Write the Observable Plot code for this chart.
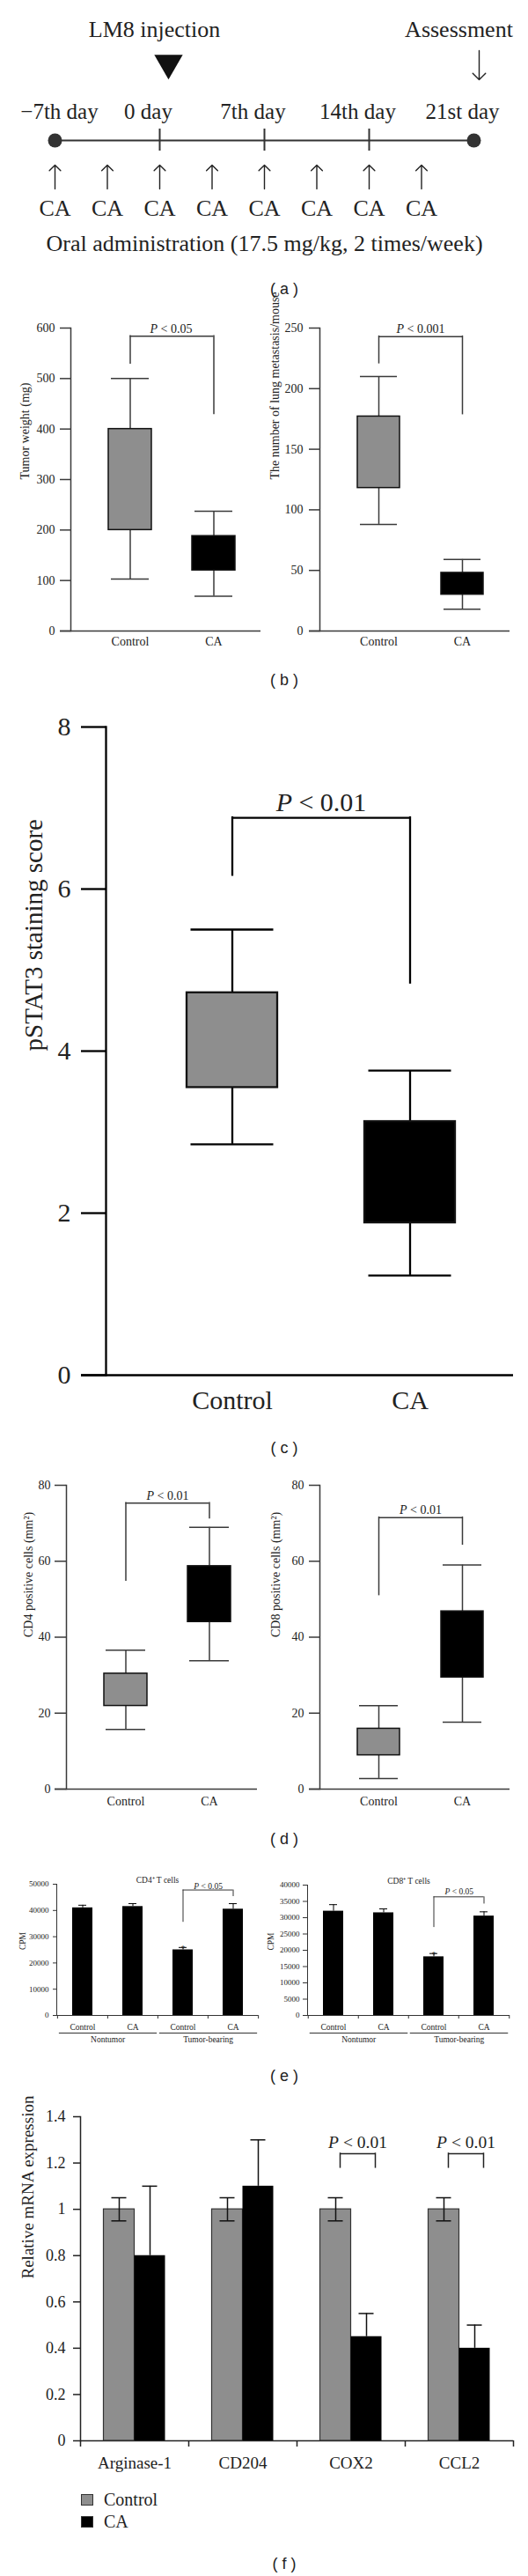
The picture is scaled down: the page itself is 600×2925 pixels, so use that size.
<!DOCTYPE html>
<html><head><meta charset="utf-8">
<script src="https://cdn.jsdelivr.net/npm/d3@7"></script>
<script src="https://cdn.jsdelivr.net/npm/@observablehq/plot@0.6"></script>
<style>
body{margin:0;background:#fff;}
#root{position:relative;width:600px;height:2925px;overflow:hidden;background:#fff;font-family:"Liberation Serif",serif;color:#222;}
.panel{position:absolute;}
.panel svg{overflow:visible;}
.plabel{position:absolute;font-family:"Liberation Sans",Arial,sans-serif;font-size:18px;line-height:20px;transform:translate(-50%,-50%);white-space:pre;color:#222;}
.legend{position:absolute;font-family:"Liberation Serif",serif;font-size:20px;color:#222;}
.legend .row{display:flex;align-items:center;height:25px;}
.legend .sw{width:14px;height:13px;margin-right:12px;box-sizing:border-box;}
</style></head><body><div id="root"></div>
<script>
// ================= DATA =================
// (a) schedule
const timelineDays = [-7, 0, 7, 14, 21];
const timelineDayLabels = ["−7th day", "0 day", "7th day", "14th day", "21st day"];
const timelineMarkDays = [0, 7, 14];
const timelineEndDays = [-7, 21];
const doseDays = [-7, -3.5, 0, 3.5, 7, 10.5, 14, 17.5];
const doseLabel = "CA";
const injectionDay = 0, injectionLabel = "LM8 injection";
const assessmentDay = 21, assessmentLabel = "Assessment";
const doseNote = "Oral administration (17.5 mg/kg, 2 times/week)";

// box plots: [lower whisker, Q1, Q3, upper whisker]
const boxGroups = ["Control", "CA"];
const tumorWeightControl = [103, 200, 400, 500];
const tumorWeightCA = [69, 120, 188, 237];
const tumorWeightBracket = [530, 584, 430];
const tumorWeightTicks = [0, 100, 200, 300, 400, 500, 600];
const lungMetControl = [88, 118, 177, 210];
const lungMetCA = [18, 30, 48, 59];
const lungMetBracket = [221, 243, 179];
const lungMetTicks = [0, 50, 100, 150, 200, 250];
const pstat3Control = [2.85, 3.55, 4.72, 5.5];
const pstat3CA = [1.23, 1.88, 3.13, 3.76];
const pstat3Bracket = [6.17, 6.88, 4.84];
const pstat3Ticks = [0, 2, 4, 6, 8];
const cd4CellsControl = [15.7, 21.9, 30.4, 36.6];
const cd4CellsCA = [33.8, 44.0, 58.7, 68.9];
const cd4CellsBracket = [54.9, 75.3, 71.3];
const cd8CellsControl = [2.8, 8.9, 15.9, 22.0];
const cd8CellsCA = [17.6, 29.4, 46.8, 59.0];
const cd8CellsBracket = [51.1, 71.5, 64.4];
const cellTicks = [0, 20, 40, 60, 80];

// (e) T-cell proliferation
const tcellConditions = ["Control", "CA", "Control", "CA"];
const tcellGroups = ["Nontumor", "Nontumor", "Tumor-bearing", "Tumor-bearing"];
const tcellStars = ["", "", "*", ""];
const tcellBracketPair = [2, 3];
const cd4Cpm = [41000, 41500, 25000, 40500];
const cd4CpmErr = [1000, 1100, 900, 2100];
const cd4CpmBracket = [35500, 47800, 45300];
const cd4CpmTicks = [0, 10000, 20000, 30000, 40000, 50000];
const cd8Cpm = [32000, 31500, 18000, 30500];
const cd8CpmErr = [2000, 1200, 1000, 1300];
const cd8CpmBracket = [27000, 36400, 34200];
const cd8CpmTicks = [0, 5000, 10000, 15000, 20000, 25000, 30000, 35000, 40000];

// (f) mRNA
const genes = ["Arginase-1", "CD204", "COX2", "CCL2"];
const mrnaSeries = ["Control", "CA"];
const mrnaControl = [1, 1, 1, 1];
const mrnaControlErr = [0.05, 0.05, 0.05, 0.05];
const mrnaCA = [0.8, 1.1, 0.45, 0.4];
const mrnaCAErr = [0.3, 0.2, 0.1, 0.1];
const mrnaP = ["", "", "< 0.01", "< 0.01"];
const mrnaBracket = [1.18, 1.24];
const mrnaTicks = [0, 0.2, 0.4, 0.6, 0.8, 1, 1.2, 1.4];

const panelLabels = ["( a )", "( b )", "( c )", "( d )", "( e )", "( f )"];

// ================= STYLE / LAYOUT =================
const SERIF = '"Liberation Serif", "Times New Roman", serif';
const INK = "#222";
const FILL = {Control: "#8e8e8e", CA: "#000000"};
const root = document.getElementById("root");
const ctx = document.createElement("canvas").getContext("2d");
function tw(s, fs, italic) { ctx.font = (italic ? "italic " : "") + fs + 'px "Liberation Serif"'; return ctx.measureText(s).width; }
function place(node, left, top) {
  const d = document.createElement("div"); d.className = "panel";
  d.style.left = left + "px"; d.style.top = top + "px"; d.appendChild(node); root.appendChild(d);
}
function pMarks(x, y, dxCenter, rest, fs, gap, extra = {}) {
  const r = "\u00a0" + rest.replace(" ", "\u00a0");
  const wP = tw("P", fs, true), wR = tw(r, fs, false);
  const start = dxCenter - (wP + wR) / 2;
  return [
    Plot.text([0], {x, y, text: () => "P", fontStyle: "italic", textAnchor: "start", lineAnchor: "bottom", dx: start, dy: -gap, fontSize: fs, fill: INK, ...extra}),
    Plot.text([0], {x, y, text: () => r, textAnchor: "start", lineAnchor: "bottom", dx: start + wP, dy: -gap, fontSize: fs, fill: INK, ...extra})
  ];
}

// ================= (a) =================
(function () {
  const rowY = {title: 33, marker: 71, day: 126, line: 159, arrowTop: 187, arrowBottom: 214, dose: 236, note: 276};
  const svg = Plot.plot({
    width: 600, height: 345, margin: 0,
    x: {domain: [-7, 21], range: [62, 538], axis: null},
    y: {domain: [0, 345], range: [0, 345], axis: null},
    style: {fontFamily: SERIF, fontSize: "26px", color: INK, background: "transparent"},
    marks: [
      Plot.text([injectionLabel], {x: () => injectionDay, y: () => rowY.title, text: d => d, fontSize: 26, dx: -6, fill: INK}),
      Plot.dot([injectionDay], {x: d => d, y: () => rowY.marker, symbol: "triangle", rotate: 180, r: 12, fill: "#111", stroke: "none", dx: 10}),
      Plot.text([assessmentLabel], {x: () => assessmentDay, y: () => rowY.title, text: d => d, fontSize: 26, dx: -17, fill: INK}),
      Plot.arrow([assessmentDay], {x1: d => d, x2: d => d, y1: () => 57, y2: () => 90, dx: 6, headLength: 11, headAngle: 90, stroke: INK, strokeWidth: 1.4}),
      Plot.text(timelineDays.filter(d => d === timelineEndDays[0]), {x: d => d, y: () => rowY.day, text: d => timelineDayLabels[timelineDays.indexOf(d)], fontSize: 25, dx: 5, fill: INK}),
      Plot.text(timelineDays.filter(d => d !== timelineEndDays[0]), {x: d => d, y: () => rowY.day, text: d => timelineDayLabels[timelineDays.indexOf(d)], fontSize: 25, dx: -13, fill: INK}),
      Plot.ruleY([rowY.line], {x1: () => timelineEndDays[0], x2: () => timelineEndDays[1], y: d => d, stroke: "#333", strokeWidth: 2}),
      Plot.ruleX(timelineMarkDays, {x: d => d, y1: () => rowY.line - 13, y2: () => rowY.line + 12, stroke: "#333", strokeWidth: 2}),
      Plot.dot(timelineEndDays, {x: d => d, y: () => rowY.line, r: 8, fill: "#333", stroke: "none"}),
      Plot.arrow(doseDays, {x1: d => d, x2: d => d, y1: () => rowY.arrowBottom, y2: () => rowY.arrowTop, headLength: 10, headAngle: 90, stroke: INK, strokeWidth: 1.4}),
      Plot.text(doseDays, {x: d => d, y: () => rowY.dose, text: () => doseLabel, fontSize: 26, fill: INK}),
      Plot.text([doseNote], {x: () => 7, y: () => rowY.note, text: d => d, fontSize: 26, fill: INK})
    ]
  });
  place(svg, 0, 0);
})();

// ================= box panels =================
function boxPanel(cfg) {
  const [sl, st, sw, sh] = cfg.svg;
  const [fl, ft, fr, fb] = cfg.frame;
  const [c0, c1] = cfg.centers;
  const step = c1 - c0, bw = cfg.bw, pi = 1 - bw / step;
  const rows = boxGroups.map((g, i) => ({g, lo: cfg.stats[i][0], q1: cfg.stats[i][1], q3: cfg.stats[i][2], hi: cfg.stats[i][3]}));
  const br = cfg.bracket;
  const line = {stroke: cfg.stroke, strokeWidth: cfg.lw};
  const g0 = () => boxGroups[0], g1 = () => boxGroups[1];
  const svg = Plot.plot({
    width: sw, height: sh,
    marginLeft: fl - sl, marginRight: sl + sw - fr, marginTop: ft - st, marginBottom: st + sh - fb,
    x: {type: "band", domain: boxGroups, range: [c0 - step / 2 - sl, c1 + step / 2 - sl], paddingInner: pi, paddingOuter: pi / 2},
    y: {domain: [cfg.yTicks[0], cfg.yTicks[cfg.yTicks.length - 1]]},
    color: {type: "identity"},
    style: {fontFamily: SERIF, fontSize: cfg.fs + "px", color: INK, background: "transparent"},
    marks: [
      Plot.axisY({ticks: cfg.yTicks, tickSize: cfg.tickSize, tickPadding: cfg.tickPadding, tickFormat: d => String(d), label: null, fontSize: cfg.fs, ...line}),
      Plot.axisX({tickSize: 0, tickPadding: cfg.xPad, label: null, fontSize: cfg.fs}),
      Plot.frame({anchor: "left", ...line}),
      Plot.ruleY([cfg.yTicks[0]], {insetLeft: -cfg.tickSize, ...line}),
      Plot.ruleX(rows, {x: "g", y1: "q3", y2: "hi", ...line}),
      Plot.ruleX(rows, {x: "g", y1: "lo", y2: "q1", ...line}),
      Plot.tickY(rows, {x: "g", y: "hi", insetLeft: cfg.capInset, insetRight: cfg.capInset, ...line}),
      Plot.tickY(rows, {x: "g", y: "lo", insetLeft: cfg.capInset, insetRight: cfg.capInset, ...line}),
      Plot.barY(rows, {x: "g", y1: "q1", y2: "q3", fill: d => FILL[d.g], stroke: "#111", strokeWidth: cfg.lw}),
      Plot.ruleX([br], {x: g0, y1: b => b[0], y2: b => b[1], ...line, strokeLinecap: "square"}),
      Plot.ruleX([br], {x: g1, y1: b => b[2], y2: b => b[1], ...line, strokeLinecap: "square"}),
      Plot.ruleY([br], {y: b => b[1], x1: g0, x2: g1, insetLeft: bw / 2, insetRight: bw / 2, ...line}),
      ...pMarks(g0, () => br[1], step / 2 + (cfg.pShift || 0), cfg.p, cfg.fs, cfg.pGap),
      Plot.text([cfg.yLabel], {frameAnchor: "left", rotate: -90, dx: cfg.ylDx, text: d => d, fontSize: cfg.ylFs || cfg.fs, fill: INK})
    ]
  });
  place(svg, sl, st);
}

boxPanel({svg: [0, 345, 300, 400], frame: [80, 372, 296, 716], centers: [147, 242], bw: 49, capInset: 3,
  stats: [tumorWeightControl, tumorWeightCA], bracket: tumorWeightBracket, yTicks: tumorWeightTicks,
  fs: 14, tickSize: 12, tickPadding: 6, xPad: 7, stroke: "#3a3a3a", lw: 1.5, p: "< 0.05", pGap: 4, pShift: -1,
  yLabel: "Tumor weight (mg)", ylDx: -52});
boxPanel({svg: [300, 345, 300, 400], frame: [363, 372, 579, 716], centers: [430, 525], bw: 48, capInset: 3,
  stats: [lungMetControl, lungMetCA], bracket: lungMetBracket, yTicks: lungMetTicks,
  fs: 14, tickSize: 12, tickPadding: 7, xPad: 7, stroke: "#3a3a3a", lw: 1.5, p: "< 0.001", pGap: 4,
  yLabel: "The number of lung metastasis/mouse", ylDx: -51});
boxPanel({svg: [0, 790, 600, 830], frame: [120, 825, 583, 1561], centers: [263, 465], bw: 103, capInset: 4.5,
  stats: [pstat3Control, pstat3CA], bracket: pstat3Bracket, yTicks: pstat3Ticks,
  fs: 30, tickSize: 28, tickPadding: 12, xPad: 17, stroke: "#000", lw: 2.3, p: "< 0.01", pGap: 8,
  yLabel: "pSTAT3 staining score", ylDx: -82, ylFs: 29});
boxPanel({svg: [0, 1665, 300, 410], frame: [75, 1686, 292, 2031], centers: [142, 237], bw: 49, capInset: 2,
  stats: [cd4CellsControl, cd4CellsCA], bracket: cd4CellsBracket, yTicks: cellTicks,
  fs: 14, tickSize: 13, tickPadding: 5, xPad: 9, stroke: "#3a3a3a", lw: 1.5, p: "< 0.01", pGap: 4,
  yLabel: "CD4 positive cells (mm²)", ylDx: -43});
boxPanel({svg: [300, 1665, 300, 410], frame: [363, 1686, 579, 2031], centers: [430, 525], bw: 48, capInset: 2,
  stats: [cd8CellsControl, cd8CellsCA], bracket: cd8CellsBracket, yTicks: cellTicks,
  fs: 14, tickSize: 12, tickPadding: 6, xPad: 9, stroke: "#3a3a3a", lw: 1.5, p: "< 0.01", pGap: 4,
  yLabel: "CD8 positive cells (mm²)", ylDx: -50});

// ================= (e) =================
function tcellPanel(cfg) {
  const [sl, st, sw, sh] = cfg.svg;
  const [fl, ft, fr, fb] = cfg.frame;
  const n = tcellConditions.length;
  const step = (fr - fl) / n, bw = 23, pi = 1 - bw / step;
  const rows = tcellConditions.map((c, i) => ({k: i, c, v: cfg.values[i], e: cfg.errs[i], star: tcellStars[i]}));
  const spans = [...new Set(tcellGroups)].map(name => ({name, first: tcellGroups.indexOf(name), last: tcellGroups.lastIndexOf(name)}));
  const br = cfg.bracket;
  const [b0, b1] = tcellBracketPair;
  const line = {stroke: "#333", strokeWidth: 1};
  const capIn = (bw - 9) / 2;
  const gap = (step - bw) / 2;
  const fs = 9.5;
  const svg = Plot.plot({
    width: sw, height: sh,
    marginLeft: fl - sl, marginRight: sl + sw - fr, marginTop: ft - st, marginBottom: st + sh - fb,
    x: {type: "band", domain: d3.range(n), range: [fl - sl, fr - sl], paddingInner: pi, paddingOuter: pi / 2},
    y: {domain: [0, cfg.yTicks[cfg.yTicks.length - 1]]},
    style: {fontFamily: SERIF, fontSize: fs + "px", color: INK, background: "transparent"},
    marks: [
      Plot.axisY({ticks: cfg.yTicks, tickSize: cfg.tickSize, tickPadding: cfg.tickPadding, tickFormat: d => String(d), label: null, fontSize: 9, ...line}),
      Plot.axisX({tickSize: 0, tickPadding: 10, tickFormat: i => tcellConditions[i], label: null, fontSize: fs}),
      Plot.frame({anchor: "left", ...line}),
      Plot.ruleY([0], line),
      Plot.ruleX(rows, {x: "k", y1: () => 0, y2: () => 0, insetBottom: -4, dx: -step / 2, ...line}),
      Plot.ruleX(rows.slice(-1), {x: "k", y1: () => 0, y2: () => 0, insetBottom: -4, dx: step / 2, ...line}),
      Plot.barY(rows, {x: "k", y: "v", fill: "#000"}),
      Plot.ruleX(rows, {x: "k", y1: "v", y2: d => d.v + d.e, stroke: "#000", strokeWidth: 1}),
      Plot.tickY(rows, {x: "k", y: d => d.v + d.e, insetLeft: capIn, insetRight: capIn, stroke: "#000", strokeWidth: 1}),
      Plot.text(rows.filter(d => d.star), {x: "k", y: d => d.v + d.e, text: "star", lineAnchor: "bottom", dy: 5, fontSize: 10, fill: INK}),
      Plot.ruleX([br], {x: () => b0, y1: b => b[0], y2: b => b[1], ...line}),
      Plot.ruleX([br], {x: () => b1, y1: b => b[2], y2: b => b[1], ...line}),
      Plot.ruleY([br], {y: b => b[1], x1: () => b0, x2: () => b1, insetLeft: bw / 2, insetRight: bw / 2, ...line}),
      ...pMarks(() => b0, () => br[1], step / 2, "< 0.05", fs, cfg.pGap),
      Plot.ruleY(spans, {y: () => 0, x1: "first", x2: "last", dy: 20, insetLeft: -gap + 2, insetRight: -gap + 1, ...line}),
      Plot.text(spans, {x: "first", y: () => 0, text: "name", dx: step / 2, dy: 27, fontSize: fs, fill: INK}),
      Plot.text([cfg.title], {frameAnchor: "top", dy: -8, text: d => d, fontSize: fs, fill: INK}),
      Plot.text(["CPM"], {frameAnchor: "left", rotate: -90, dx: cfg.ylDx, text: d => d, fontSize: fs, fill: INK})
    ]
  });
  place(svg, sl, st);
}
tcellPanel({svg: [0, 2122, 300, 210], frame: [64, 2139, 293, 2288], values: cd4Cpm, errs: cd4CpmErr, bracket: cd4CpmBracket,
  yTicks: cd4CpmTicks, tickSize: 4, tickPadding: 5, title: "CD4⁺ T cells", ylDx: -39, pGap: 1.5});
tcellPanel({svg: [300, 2122, 300, 210], frame: [349, 2140, 579, 2288], values: cd8Cpm, errs: cd8CpmErr, bracket: cd8CpmBracket,
  yTicks: cd8CpmTicks, tickSize: 5, tickPadding: 4, title: "CD8⁺ T cells", ylDx: -42, pGap: 3});

// ================= (f) =================
(function () {
  const [sl, st, sw, sh] = [0, 2385, 600, 440];
  const [fl, ft, fr, fb] = [91, 2403, 583, 2771];
  const step = (fr - fl) / genes.length;
  const barW = 35, off = 17.5, capW = 17;
  const ins = (step - barW) / 2, capIns = (step - capW) / 2;
  const rows = genes.map((g, i) => ({g, c: mrnaControl[i], ce: mrnaControlErr[i], a: mrnaCA[i], ae: mrnaCAErr[i], p: mrnaP[i]}));
  const sig = rows.filter(d => d.p);
  const err = {stroke: "#111", strokeWidth: 1.5};
  const line = {stroke: "#222", strokeWidth: 1.5};
  const bl = -off + 5, brr = off + 10;
  const svg = Plot.plot({
    width: sw, height: sh,
    marginLeft: fl - sl, marginRight: sl + sw - fr, marginTop: ft - st, marginBottom: st + sh - fb,
    x: {type: "band", domain: genes, padding: 0},
    y: {domain: [0, mrnaTicks[mrnaTicks.length - 1]]},
    style: {fontFamily: SERIF, fontSize: "19px", color: INK, background: "transparent"},
    marks: [
      Plot.axisY({ticks: mrnaTicks, tickSize: 8, tickPadding: 9, tickFormat: d => String(d), label: null, fontSize: 18, ...line}),
      Plot.axisX({tickSize: 0, tickPadding: 18, label: null, fontSize: 19}),
      Plot.frame({anchor: "left", ...line}),
      Plot.ruleY([0], line),
      Plot.ruleX(genes, {x: d => d, y1: () => 0, y2: () => 0, insetBottom: -7, dx: -step / 2, ...line}),
      Plot.ruleX(genes.slice(-1), {x: d => d, y1: () => 0, y2: () => 0, insetBottom: -7, dx: step / 2, ...line}),
      Plot.barY(rows, {x: "g", y: "c", fill: FILL.Control, stroke: "#333", strokeWidth: 1.2, insetLeft: ins, insetRight: ins, dx: -off}),
      Plot.barY(rows, {x: "g", y: "a", fill: FILL.CA, insetLeft: ins, insetRight: ins, dx: off}),
      Plot.ruleX(rows, {x: "g", y1: d => d.c - d.ce, y2: d => d.c + d.ce, dx: -off, ...err}),
      Plot.tickY(rows, {x: "g", y: d => d.c + d.ce, insetLeft: capIns, insetRight: capIns, dx: -off, ...err}),
      Plot.tickY(rows, {x: "g", y: d => d.c - d.ce, insetLeft: capIns, insetRight: capIns, dx: -off, ...err}),
      Plot.ruleX(rows, {x: "g", y1: "a", y2: d => d.a + d.ae, dx: off, ...err}),
      Plot.tickY(rows, {x: "g", y: d => d.a + d.ae, insetLeft: capIns, insetRight: capIns, dx: off, ...err}),
      Plot.ruleX(sig, {x: "g", y1: () => mrnaBracket[0], y2: () => mrnaBracket[1], dx: bl, ...line, strokeLinecap: "square"}),
      Plot.ruleX(sig, {x: "g", y1: () => mrnaBracket[0], y2: () => mrnaBracket[1], dx: brr, ...line, strokeLinecap: "square"}),
      Plot.ruleY(sig, {y: () => mrnaBracket[1], x1: "g", x2: "g", insetLeft: step / 2 + bl, insetRight: step / 2 - brr, ...line}),
      ...sig.flatMap(d => pMarks(() => d.g, () => mrnaBracket[1], (bl + brr) / 2, d.p, 19.5, 7)),
      Plot.text(["Relative mRNA expression"], {frameAnchor: "left", rotate: -90, dx: -60, text: d => d, fontSize: 19, fill: INK})
    ]
  });
  place(svg, sl, st);
  // legend
  const lg = document.createElement("div"); lg.className = "legend";
  lg.style.left = "92px"; lg.style.top = "2826px";
  mrnaSeries.forEach(s => {
    const r = document.createElement("div"); r.className = "row";
    const sw2 = document.createElement("div"); sw2.className = "sw";
    sw2.style.background = FILL[s]; sw2.style.border = "1px solid #333";
    const t = document.createElement("span"); t.textContent = s;
    r.appendChild(sw2); r.appendChild(t); lg.appendChild(r);
  });
  root.appendChild(lg);
})();

// panel labels
const labelY = [328, 772, 1644, 2088, 2357, 2911];
panelLabels.forEach((t, i) => {
  const d = document.createElement("div"); d.className = "plabel";
  d.textContent = t; d.style.left = "323px"; d.style.top = labelY[i] + "px";
  root.appendChild(d);
});
</script></body></html>
